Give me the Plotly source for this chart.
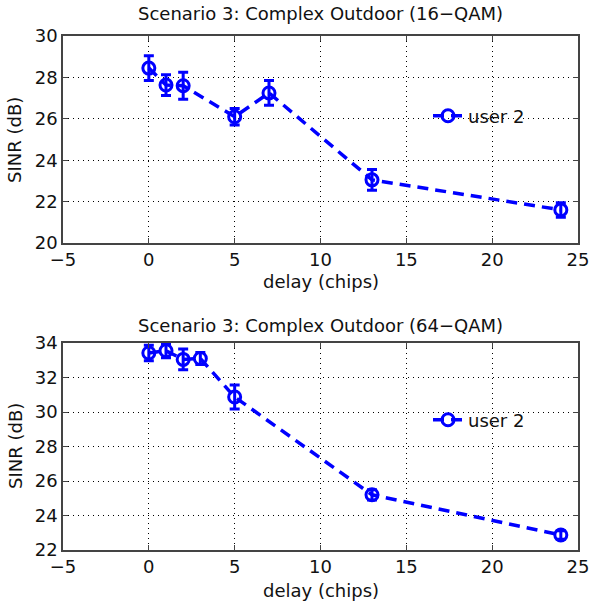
import plotly.graph_objects as go

# SINR vs. delay, user 2, two modulation schemes
delay_16 = [0, 1, 2, 5, 7, 13, 24]
sinr_16 = [28.45, 27.63, 27.6, 26.1, 27.25, 23.05, 21.6]
err_16 = [0.6, 0.5, 0.65, 0.4, 0.6, 0.5, 0.35]

delay_64 = [0, 1, 2, 3, 5, 13, 24]
sinr_64 = [33.42, 33.55, 33.05, 33.1, 30.87, 25.2, 22.87]
err_64 = [0.45, 0.4, 0.6, 0.35, 0.7, 0.3, 0.25]

titles = ["Scenario 3: Complex Outdoor (16\u2212QAM)",
          "Scenario 3: Complex Outdoor (64\u2212QAM)"]
x_ticks = [-5, 0, 5, 10, 15, 20, 25]
y_ticks_16 = [20, 22, 24, 26, 28, 30]
y_ticks_64 = [22, 24, 26, 28, 30, 32, 34]

W, H = 591, 604
BLUE = "#0000ff"
FONT = "DejaVu Sans"

x_dom = [63 / W, 578 / W]
y_dom_top = [1 - 243 / H, 1 - 36 / H]
y_dom_bot = [1 - 550 / H, 1 - 343 / H]

fig = go.Figure()


def add_series(x, y, e, xa, ya, legend):
    fig.add_trace(go.Scatter(
        x=x, y=y, xaxis=xa, yaxis=ya, name="user 2", legend=legend,
        mode="lines+markers",
        line=dict(color=BLUE, width=3.5, dash="11px,7px"),
        marker=dict(symbol="circle-open", size=12, color=BLUE,
                    line=dict(width=3, color=BLUE)),
        error_y=dict(type="data", array=e, visible=True, color=BLUE,
                     thickness=3, width=5),
    ))


add_series(delay_16, sinr_16, err_16, "x", "y", "legend")
add_series(delay_64, sinr_64, err_64, "x2", "y2", "legend2")

axis_common = dict(
    showgrid=True, gridcolor="#000000", gridwidth=1, griddash="1px,4px",
    showline=True, linecolor="#444444", linewidth=1.5, mirror="ticks",
    ticks="inside", ticklen=5, tickcolor="#444444", zeroline=False,
    tickfont=dict(family=FONT, size=18, color="#111111"), automargin=False,
)

fig.update_layout(
    width=W, height=H, margin=dict(l=0, r=0, t=0, b=0),
    paper_bgcolor="white", plot_bgcolor="white",
    showlegend=True,
    xaxis=dict(domain=x_dom, range=[-5, 25], tickvals=x_ticks, anchor="y",
               ticktext=[str(v).replace("-", "\u2212") for v in x_ticks],
               **axis_common),
    yaxis=dict(domain=y_dom_top, range=[20, 30], tickvals=y_ticks_16,
               anchor="x", **axis_common),
    xaxis2=dict(domain=x_dom, range=[-5, 25], tickvals=x_ticks, anchor="y2",
                ticktext=[str(v).replace("-", "\u2212") for v in x_ticks],
                **axis_common),
    yaxis2=dict(domain=y_dom_bot, range=[22, 34], tickvals=y_ticks_64,
                anchor="x2", **axis_common),
    legend=dict(x=428 / W, y=1 - 116 / H, xanchor="left", yanchor="middle",
                bgcolor="rgba(0,0,0,0)",
                font=dict(family=FONT, size=18, color="#111111")),
    legend2=dict(x=428 / W, y=1 - 420 / H, xanchor="left", yanchor="middle",
                 bgcolor="rgba(0,0,0,0)",
                 font=dict(family=FONT, size=18, color="#111111")),
)

text_font = dict(family=FONT, size=18, color="#111111")
for title, ytop in zip(titles, [13, 325]):
    fig.add_annotation(text=title, x=(x_dom[0] + x_dom[1]) / 2, y=1 - ytop / H,
                       xref="paper", yref="paper", showarrow=False,
                       xanchor="center", yanchor="middle", font=text_font)
for ymid in [140, 446]:
    fig.add_annotation(text="SINR (dB)", x=15 / W, y=1 - ymid / H,
                       xref="paper", yref="paper", showarrow=False,
                       textangle=-90, xanchor="center", yanchor="middle",
                       font=dict(family=FONT, size=18, color="#111111"))
for yl in [281, 590]:
    fig.add_annotation(text="delay (chips)", x=(x_dom[0] + x_dom[1]) / 2,
                       y=1 - yl / H, xref="paper", yref="paper",
                       showarrow=False, xanchor="center", yanchor="middle",
                       font=dict(family=FONT, size=18, color="#111111"))

fig.write_html("out.html")
